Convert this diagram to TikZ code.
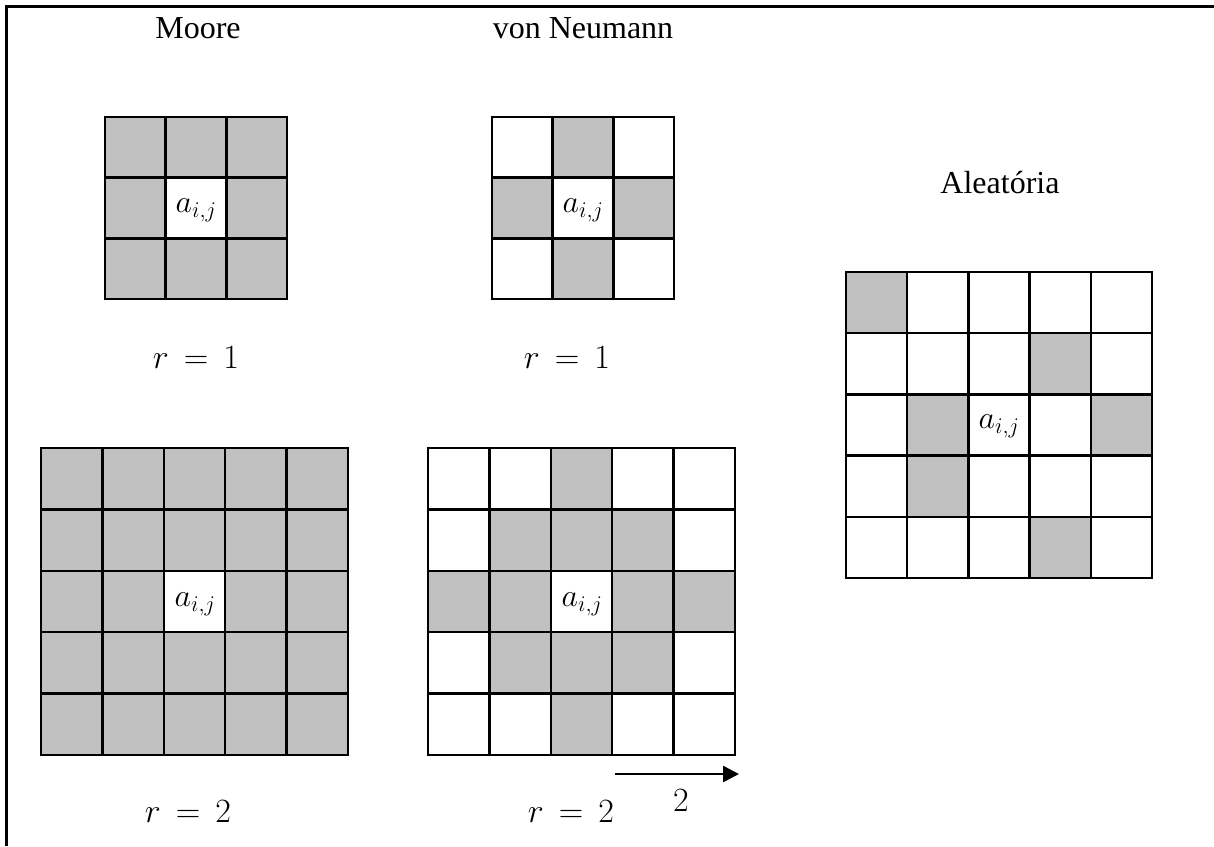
\RequirePackage{fix-cm}
\documentclass[tikz,border=0pt]{standalone}
\usepackage{fontspec}
\setmainfont{Liberation Serif}
\usetikzlibrary{arrows.meta}
\definecolor{cellgray}{HTML}{C0C0C0}
\newcommand\cellgrid[5]{% x0, y0, cell, n, shaded list col/row
  \foreach \cc/\rr in {#5} {\fill[cellgray] ({#1+\cc*#3},{#2+\rr*#3}) rectangle ++(#3,#3);}
  \foreach \k in {1,...,\numexpr#4-1\relax} {
    \draw[gridline] ({#1+\k*#3},#2) -- ++(0,{#4*#3});
    \draw[gridline] (#1,{#2+\k*#3}) -- ++({#4*#3},0);
  }
  \draw[gridline] (#1,#2) rectangle ++({#4*#3},{#4*#3});
}
\newcommand\req[1]{$r \mkern3mu=\mkern3mu #1$}
\begin{document}
\begin{tikzpicture}[x=1pt,y=-1pt,
  gridline/.style={line width=2.5pt,line join=miter},
  frameline/.style={line width=3pt},
  title/.style={font=\fontsize{32}{38}\selectfont,inner sep=0pt},
  mlabel/.style={font=\fontsize{34}{40}\selectfont,inner sep=0pt},
  cellmath/.style={font=\fontsize{32}{38}\selectfont,inner sep=0pt}]
\useasboundingbox (0,0) rectangle (1214,846);
\draw[frameline] (6,846) -- (6,6) -- (1214,6);

% Moore r=1
\cellgrid{105}{117}{60.7}{3}{0/0,1/0,2/0,0/1,2/1,0/2,1/2,2/2}
\node[cellmath] (a1) at (196,210) {$a_{i,j}$};
% von Neumann r=1
\cellgrid{492}{117}{60.7}{3}{1/0,0/1,2/1,1/2}
\node[cellmath] (a2) at (583,210) {$a_{i,j}$};
% Aleatoria
\cellgrid{846}{272}{61.2}{5}{0/0,3/1,1/2,4/2,1/3,3/4}
\node[cellmath] (a3) at (999,426) {$a_{i,j}$};
% Moore r=2
\cellgrid{41}{448}{61.4}{5}{0/0,1/0,2/0,3/0,4/0,0/1,1/1,2/1,3/1,4/1,0/2,1/2,3/2,4/2,0/3,1/3,2/3,3/3,4/3,0/4,1/4,2/4,3/4,4/4}
\node[cellmath] (a4) at (195,604) {$a_{i,j}$};
% von Neumann r=2
\cellgrid{428}{448}{61.4}{5}{2/0,1/1,2/1,3/1,0/2,1/2,3/2,4/2,1/3,2/3,3/3,2/4}
\node[cellmath] (a5) at (582,604) {$a_{i,j}$};

\node[title] (moore) at (198,28) {Moore};
\node[title] (vn) at (583,28) {von Neumann};
\node[title] (ale) at (1000,183) {Aleatória};
\node[mlabel] (r1a) at (196,358) {\req{1}};
\node[mlabel] (r1b) at (567,358) {\req{1}};
\node[mlabel] (r2a) at (188,812) {\req{2}};
\node[mlabel] (r2b) at (571,812) {\req{2}};

\coordinate (arrS) at (615,774);
\coordinate (arrE) at (739,774);
\draw[line width=2.5pt,-{Triangle[length=16pt,width=16pt]}] (arrS) -- (arrE);
\node[mlabel] (two) at (681,801) {$2$};
\end{tikzpicture}
\end{document}
